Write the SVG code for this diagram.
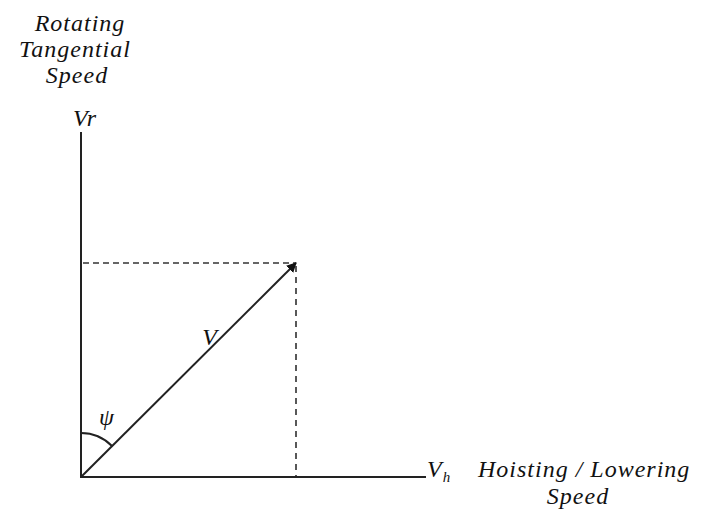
<svg xmlns="http://www.w3.org/2000/svg" width="701" height="513" viewBox="0 0 701 513">
<style>
.t{font-family:"Liberation Serif","Times New Roman",serif;font-style:italic;font-size:24px;letter-spacing:1px;fill:#111}
.ax{stroke:#222;stroke-width:2;fill:none}
.dh{stroke:#666;stroke-width:2;stroke-dasharray:6 4;fill:none}
.dv{stroke:#222;stroke-width:1.5;stroke-dasharray:6 5;fill:none}
</style>
<defs>
<marker id="ah" viewBox="0 0 10 10" refX="9" refY="5" markerWidth="10" markerHeight="10" markerUnits="userSpaceOnUse" orient="auto">
<path d="M0,0 L10,5 L0,10 z" fill="#111"/>
</marker>
</defs>
<g id="labels">
<text class="t" x="80" y="31" text-anchor="middle">Rotating</text>
<text class="t" x="75" y="57" text-anchor="middle">Tangential</text>
<text class="t" x="77" y="83" text-anchor="middle">Speed</text>
<text class="t" x="85" y="126" text-anchor="middle">Vr</text>
<text class="t" x="427" y="477">V<tspan font-size="15" dy="5">h</tspan></text>
<text class="t" x="478" y="477">Hoisting / Lowering</text>
<text class="t" x="578" y="504" text-anchor="middle">Speed</text>
<text class="t" x="210" y="345" text-anchor="middle">V</text>
<text class="t" x="107" y="425" text-anchor="middle">ψ</text>
</g>
<g id="connectors">
<line class="ax" x1="81" y1="132" x2="81" y2="478"/>
<line class="ax" x1="80" y1="477" x2="426" y2="477"/>
<line class="dh" x1="83" y1="263" x2="296" y2="263"/>
<line class="dv" x1="296" y1="266" x2="296" y2="476"/>
<line class="ax" x1="81" y1="477" x2="296" y2="263" marker-end="url(#ah)" stroke-width="1.8"/>
<path class="ax" d="M81,433 A44,44 0 0 1 112,446" stroke-width="1.2"/>
</g>
</svg>
